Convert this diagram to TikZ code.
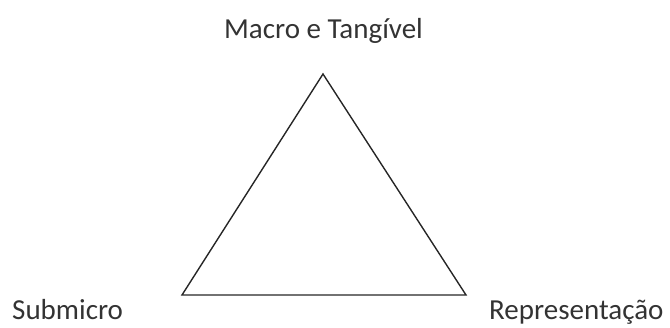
\documentclass[tikz,border=0pt]{standalone}
\usepackage{fontspec}
\setmainfont{Carlito}
\tikzset{lbl/.style={inner sep=0pt, text=black!80, font=\fontsize{29}{34}\selectfont}}
\begin{document}
\begin{tikzpicture}[x=1pt,y=-1pt]
\useasboundingbox (0,0) rectangle (670,327);
\coordinate (T) at (323,74);
\coordinate (L) at (182,295);
\coordinate (R) at (466,295);
\draw[line width=1.4pt, black!85, line join=miter] (T) -- (L) -- (R) -- cycle;
\node[lbl, anchor=base] (top) at (323.5,38) {Macro e Tangível};
\node[lbl, anchor=base west] (sub) at (12,319.5) {Submicro};
\node[lbl, anchor=base west] (rep) at (489,319.5) {Representação};
\end{tikzpicture}
\end{document}
